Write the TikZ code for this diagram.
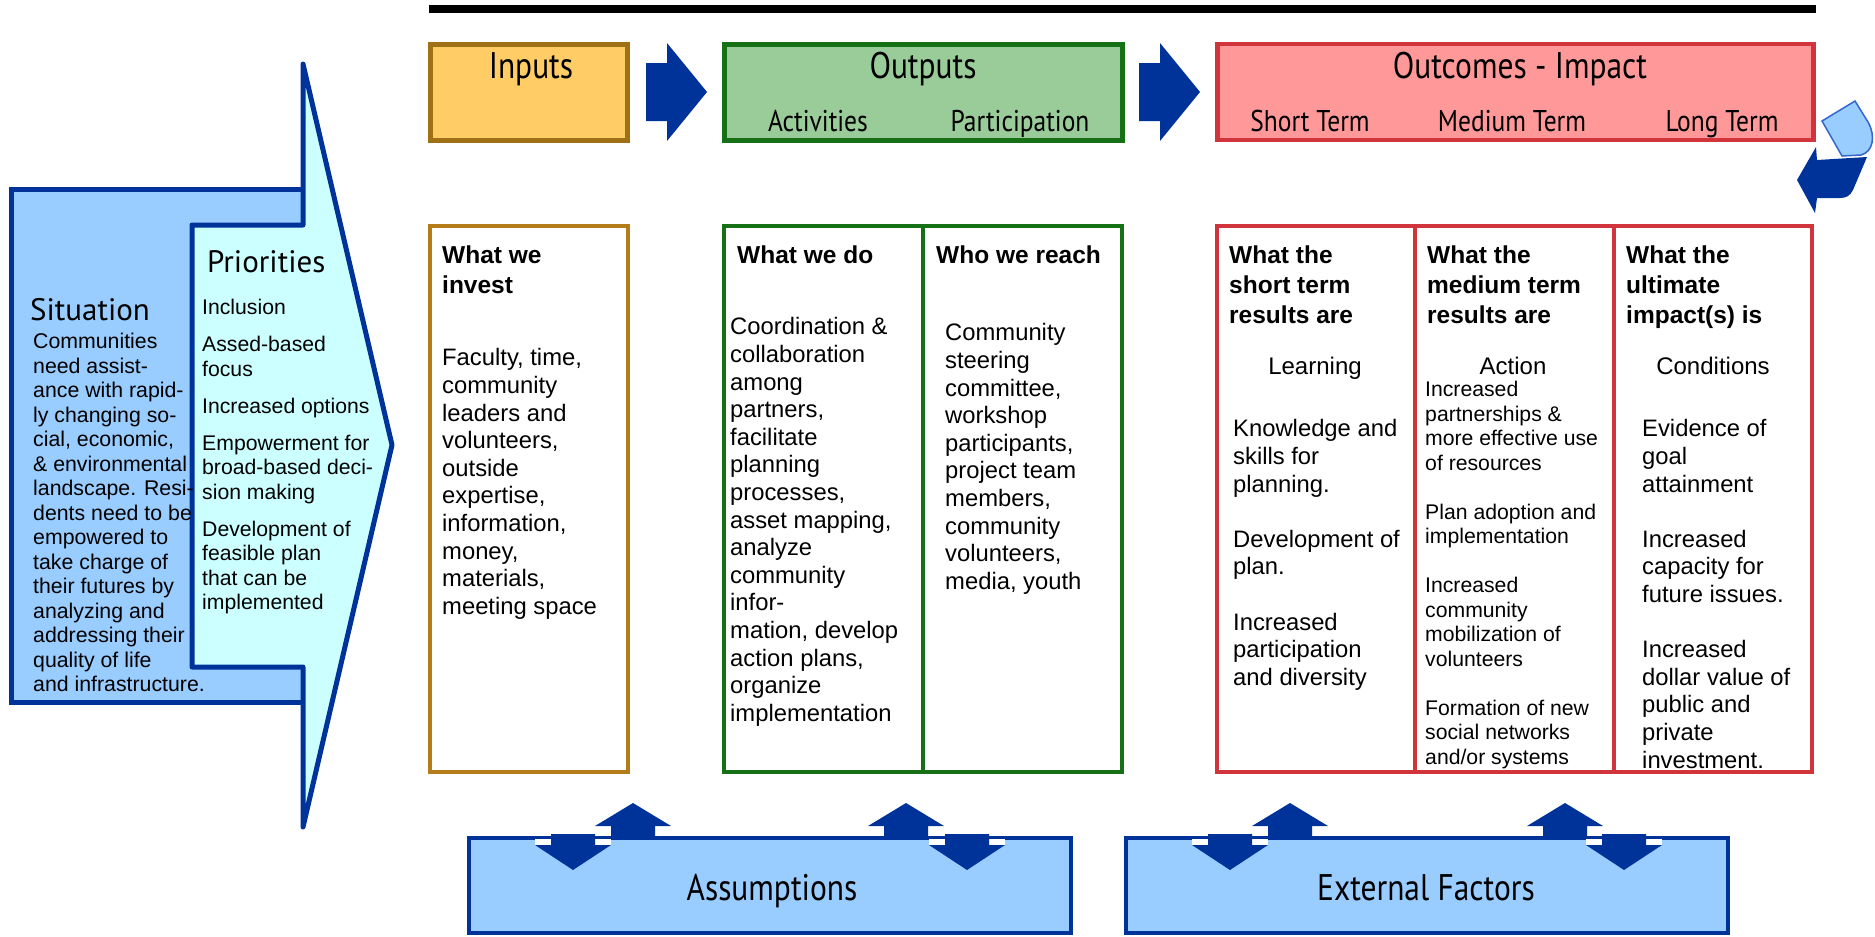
\documentclass[tikz,border=0pt]{standalone}
\usepackage{fontspec}
\setmainfont{Liberation Sans}
\newfontfamily\hdrfont[FakeStretch=0.85]{PT Sans}
\newfontfamily\hdrwide{PT Sans}
\usetikzlibrary{calc}
\definecolor{dblue}{RGB}{0,51,153}
\definecolor{lblue}{RGB}{153,204,255}
\definecolor{cyanf}{RGB}{204,255,255}
\definecolor{inpfill}{RGB}{255,204,102}
\definecolor{inpdraw}{RGB}{160,112,22}
\definecolor{inpcol}{RGB}{180,125,25}
\definecolor{outfill}{RGB}{153,204,153}
\definecolor{outdraw}{RGB}{22,112,22}
\definecolor{ocfill}{RGB}{255,153,153}
\definecolor{ocdraw}{RGB}{210,52,60}
\definecolor{recyc}{RGB}{51,102,204}
\newcommand\myUpArr[1]{\fill[dblue] (#1,803) -- (#1+38,826) -- (#1+22,826) -- (#1+22,839) -- (#1-22,839) -- (#1-22,826) -- (#1-38,826) -- cycle;}
\newcommand\myDownArr[1]{\fill[white] (#1-38,839) rectangle (#1+38,845);
  \fill[dblue] (#1-22,834) -- (#1+22,834) -- (#1+22,845) -- (#1+38,845) -- (#1,870) -- (#1-38,845) -- (#1-22,845) -- cycle;}
\begin{document}
\begin{tikzpicture}[x=1pt,y=-1pt,
  hbox/.style={draw, line width=4.5pt, inner sep=0pt, minimum height=96pt},
  colbox/.style={draw, line width=4pt, fill=white, inner sep=0pt, minimum height=546pt},
  bluebox/.style={draw=dblue, fill=lblue, line width=4pt, inner sep=0pt, minimum width=602pt, minimum height=95pt},
  body/.style={anchor=north west, inner sep=0pt, align=left, font=\fontsize{23.8}{27.6}\selectfont},
  smallbody/.style={anchor=north west, inner sep=0pt, align=left, font=\fontsize{21.2}{24.5}\selectfont},
  colhead/.style={anchor=north west, inner sep=0pt, align=left, font=\bfseries\fontsize{24.5}{30}\selectfont},
  title/.style={anchor=base, inner sep=0pt, font=\hdrfont\fontsize{37}{41}\selectfont},
  subtitle/.style={anchor=base, inner sep=0pt, font=\hdrfont\fontsize{30}{34}\selectfont},
  sidetitle/.style={anchor=base west, inner sep=0pt, font=\hdrwide\fontsize{31}{36}\selectfont},
  kind/.style={anchor=base, inner sep=0pt, font=\fontsize{24}{28}\selectfont},
]
\useasboundingbox (0,0) rectangle (1875,937);
\fill[white] (0,0) rectangle (1875,937);

% top rule
\coordinate (ruleL) at (429,9);
\coordinate (ruleR) at (1816,9);
\draw[line width=8pt] (ruleL) -- (ruleR);

% situation and priorities
\node[draw=dblue, fill=lblue, line width=5pt, inner sep=0pt, outer sep=0pt, minimum width=291.5pt, minimum height=513pt, anchor=north west] (situation) at (11.5,189.5) {};
\draw[draw=dblue, fill=cyanf, line width=5pt, line join=round] (303,64) -- (392,445) -- (303,827) -- (303,667) -- (192,667) -- (192,225) -- (303,225) -- cycle;
\node[sidetitle] (sit-t) at (30,320) {Situation};
\node[sidetitle] (prio-t) at (207,272) {Priorities};
\node[smallbody, font=\fontsize{21.3}{24.5}\selectfont] (sit-b) at (33,333) {Communities\\need assist-\\ance with rapid-\\ly changing so-\\cial, economic,\\\& environmental\\landscape. Resi-\\dents need to be\\empowered to\\take charge of\\their futures by\\analyzing and\\addressing their\\quality of life\\and infrastructure.};
\node[smallbody] (prio-b) at (202,299) {Inclusion\\[12.5pt]Assed-based\\focus\\[12.5pt]Increased options\\[12.5pt]Empowerment for\\broad-based deci-\\sion making\\[12.5pt]Development of\\feasible plan\\that can be\\implemented};

% header boxes
\node[hbox, fill=inpfill, draw=inpdraw, minimum width=197pt] (inputs) at (529,92.5) {};
\node[hbox, fill=outfill, draw=outdraw, minimum width=398pt] (outputs) at (923.5,92.5) {};
\node[hbox, fill=ocfill, draw=ocdraw, minimum width=596pt] (outcomes) at (1515.5,92) {};
\node[title] (inputs-t) at (531,78) {Inputs};
\node[title] (outputs-t) at (923,78) {Outputs};
\node[title] (outcomes-t) at (1520,78) {Outcomes - Impact};
\node[subtitle] (act-t) at (818,131) {Activities};
\node[subtitle] (part-t) at (1020,131) {Participation};
\node[subtitle] (st-t) at (1310,131) {Short Term};
\node[subtitle] (mt-t) at (1512,131) {Medium Term};
\node[subtitle] (lt-t) at (1722,131) {Long Term};

% header arrows
\fill[dblue] (646,63) -- (667,63) -- (667,43) -- (707,92) -- (667,141) -- (667,121) -- (646,121) -- cycle;
\fill[dblue] (1139,63) -- (1160,63) -- (1160,43) -- (1200,92) -- (1160,141) -- (1160,121) -- (1139,121) -- cycle;

% recycle arrow
\filldraw[fill=lblue, draw=recyc, line width=1.5pt] (1822,121) -- (1855,101) -- (1868,122) .. controls (1876,136) and (1873,152) .. (1861,155) -- (1842,156) -- cycle;
\fill[dblue] (1797,180) -- (1816,147) -- (1817,160) -- (1867,157) -- (1853,190) .. controls (1850,196) and (1846,198) .. (1840,198) -- (1817,198) -- (1815,213) -- cycle;

% column boxes
\node[colbox, draw=inpcol, minimum width=198pt] (inputs-c) at (529,499) {};
\node[colbox, draw=outdraw, minimum width=398pt] (outputs-c) at (923,499) {};
\draw[outdraw, line width=4pt] (outputs-c.north) -- (outputs-c.south);
\node[colbox, draw=ocdraw, minimum width=595pt] (outcomes-c) at (1514.5,499) {};
\draw[ocdraw, line width=4pt] ($(outcomes-c.north west)!1/3!(outcomes-c.north east)$) -- ($(outcomes-c.south west)!1/3!(outcomes-c.south east)$);
\draw[ocdraw, line width=4pt] ($(outcomes-c.north west)!2/3!(outcomes-c.north east)$) -- ($(outcomes-c.south west)!2/3!(outcomes-c.south east)$);

% column headers
\node[colhead] (inv-h) at (442,246) {What we\\invest};
\node[colhead] (do-h) at (737,246) {What we do};
\node[colhead] (reach-h) at (936,246) {Who we reach};
\node[colhead] (st-h) at (1229,246) {What the\\short term\\results are};
\node[colhead] (mt-h) at (1427,246) {What the\\medium term\\results are};
\node[colhead] (lt-h) at (1626,246) {What the\\ultimate\\impact(s) is};

% column bodies
\node[body] (inv-b) at (442,348.5) {Faculty, time,\\community\\leaders and\\volunteers,\\outside\\expertise,\\information,\\money,\\materials,\\meeting space};
\node[body] (do-b) at (730,317.5) {Coordination \&\\collaboration\\among\\partners,\\facilitate\\planning\\processes,\\asset mapping,\\analyze\\community\\infor-\\mation, develop\\action plans,\\organize\\implementation};
\node[body] (reach-b) at (945,323.5) {Community\\steering\\committee,\\workshop\\participants,\\project team\\members,\\community\\volunteers,\\media, youth};

\node[kind] (learn) at (1315,374) {Learning};
\node[kind] (action) at (1513,374) {Action};
\node[kind] (cond) at (1713,374) {Conditions};

\node[body] (st-b) at (1233,419.4) {Knowledge and\\skills for\\planning.\\[27.6pt]Development of\\plan.\\[27.6pt]Increased\\participation\\and diversity};
\node[smallbody] (mt-b) at (1425,381.4) {Increased\\partnerships \&\\more effective use\\of resources\\[24.5pt]Plan adoption and\\implementation\\[24.5pt]Increased\\community\\mobilization of\\volunteers\\[24.5pt]Formation of new\\social networks\\and/or systems};
\node[body] (lt-b) at (1642,419.4) {Evidence of\\goal\\attainment\\[27.6pt]Increased\\capacity for\\future issues.\\[27.6pt]Increased\\dollar value of\\public and\\private\\investment.};

% bottom boxes
\node[bluebox] (assump) at (770,885.5) {};
\node[bluebox] (ext) at (1427,885.5) {};
\node[title] (assump-t) at (772,900) {Assumptions};
\node[title] (ext-t) at (1426,900) {External Factors};
\myUpArr{633}\myDownArr{573}
\myUpArr{906}\myDownArr{967}
\myUpArr{1290}\myDownArr{1230}
\myUpArr{1565}\myDownArr{1624}
\end{tikzpicture}
\end{document}
